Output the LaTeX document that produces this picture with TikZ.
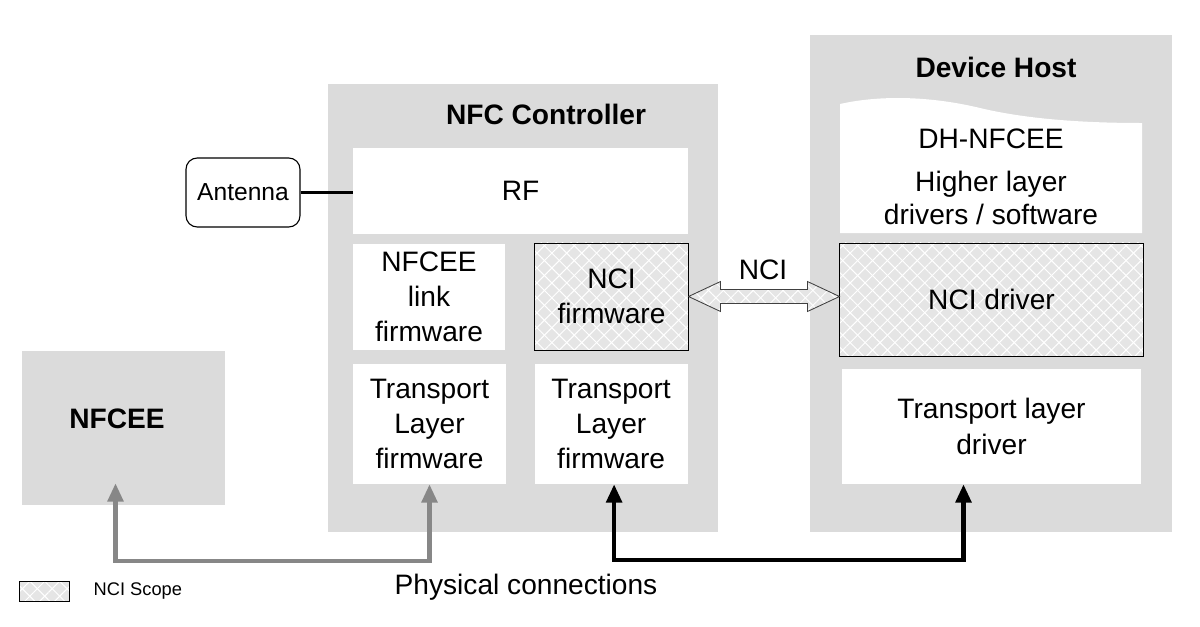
\documentclass[tikz,border=0pt]{standalone}
\usepackage{fontspec}
\setmainfont{Liberation Sans}
\usetikzlibrary{arrows.meta, positioning, calc, patterns.meta}
\definecolor{boxgray}{gray}{0.86}
\definecolor{hatchgray}{gray}{0.9}
\definecolor{linkgray}{gray}{0.53}
\newcommand{\txt}{\fontsize{20}{25}\selectfont}
\newcommand{\ttl}{\fontsize{20}{25}\selectfont\bfseries}
\tikzstyle{unit} = [fill=boxgray, rectangle, inner sep=0pt]
\tikzstyle{heading} = [font=\ttl]
\tikzstyle{block} = [fill=white, rectangle, inner sep=0pt, align=center, font=\txt]
\tikzstyle{hatched} = [preaction={fill=hatchgray},
    preaction={pattern={Lines[angle=45,distance=7.5pt,line width=0.7pt]}, pattern color=white},
    preaction={pattern={Lines[angle=-45,distance=7.5pt,line width=0.7pt]}, pattern color=white}]
\tikzstyle{ncibox} = [block, fill=none, hatched, draw, line width=0.7pt]
\tikzstyle{wire} = [line width=3pt]

\begin{document}
\begin{tikzpicture}[x=0.025cm, y=-0.025cm, >={Triangle[length=13pt,width=11pt]}]
    \useasboundingbox (0,0) rectangle (1200,626);
    % containers
    \node [unit, minimum width=9.75cm, minimum height=11.2cm] (ctrl) at (523,308) {};
    \node [unit, minimum width=9.05cm, minimum height=12.425cm] (host) at (991,283.5) {};
    \node [unit, minimum width=5.075cm, minimum height=3.85cm] (nfcee) at (123.5,428) {};
    \node [heading] (ctrltitle) at (546,114) {NFC Controller};
    \node [heading] (hosttitle) at (996,67) {Device Host};
    \node [heading] (nfceetitle) at (117,419) {NFCEE};
    % NFC controller
    \node [block, minimum width=8.375cm, minimum height=2.15cm] (rf) at (520.5,191) {RF};
    \node [block, minimum width=3.8cm, minimum height=2.65cm] (link) at (429,297) {NFCEE\\link\\firmware};
    \node [ncibox, minimum width=3.825cm, minimum height=2.675cm] (ncifw) at (611.5,296.5) {NCI\\firmware};
    \node [block, minimum width=3.825cm, minimum height=3cm] (tl1) at (429.5,424) {Transport\\Layer\\firmware};
    \node [block, minimum width=3.825cm, minimum height=3cm, right=0.7cm of tl1] (tl2) {Transport\\Layer\\firmware};
    % device host
    \fill [white] (840,233) -- (840,104) .. controls (880,95) and (930,96) .. (980,108)
        .. controls (1030,120) and (1090,123) .. (1142,123) -- (1142,233) -- cycle;
    \node [font=\fontsize{20}{23.5}\selectfont, align=center] (dh) at (991,177) {DH-NFCEE\\[7pt]Higher layer\\drivers / software};
    \node [ncibox, minimum width=7.575cm, minimum height=2.825cm] (ncidrv) at (991.5,299.5) {NCI driver};
    \node [block, minimum width=7.475cm, minimum height=2.875cm] (tldrv) at (991.5,426.5) {Transport layer\\driver};
    % antenna
    \node [draw, rounded corners=8pt, minimum width=2.85cm, minimum height=1.725cm, font=\fontsize{17.5}{21}\selectfont, line width=0.8pt] (antenna) at (243,192.5) {Antenna};
    \draw [line width=2.5pt] (antenna.east) -- (antenna.east -| rf.west);
    % NCI interface
    \coordinate (nciL) at (ncifw.east);
    \coordinate (nciR) at (ncifw.east -| ncidrv.west);
    \draw [hatched, draw=black!75, line width=0.6pt] (nciL) -- ++(32,-15) -- ++(0,8)
        -- ($(nciR)+(-32,-7)$) -- ++(0,-8) -- (nciR) -- ++(-32,15) -- ++(0,-8)
        -- ($(nciL)+(32,7)$) -- ++(0,8) -- cycle;
    \node [font=\txt] (ncilabel) at (763,270) {NCI};
    % physical connections
    \draw [wire, linkgray, <->] ($(nfcee.south)+(-8,-22)$) -- ++(0,78) -| (tl1.south);
    \draw [wire, <->] ($(tl2.south)+(3,0)$) -- ++(0,76) -| ($(tldrv.south)+(-28,0)$);
    \node [font=\txt] (phys) at (526,587) {Physical connections};
    % legend
    \node [ncibox, minimum width=1.25cm, minimum height=0.5cm] (legend) at (44,591) {};
    \node [font=\fontsize{13}{15}\selectfont, right=0.48cm of legend] (legendtext) {NCI Scope};
\end{tikzpicture}
\end{document}
